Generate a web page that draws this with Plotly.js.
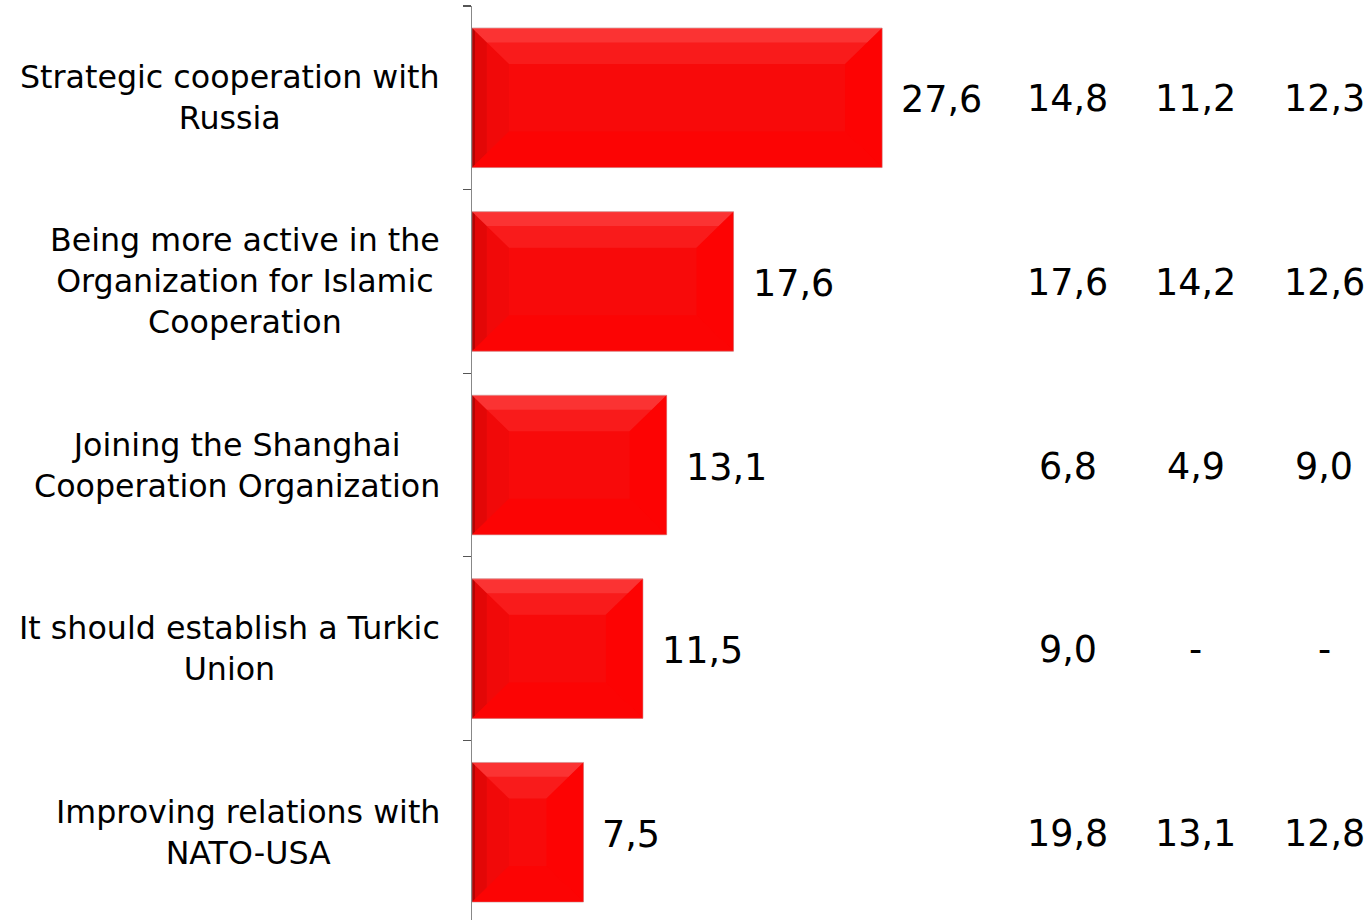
<!DOCTYPE html>
<html>
<head>
<meta charset="utf-8">
<script src="https://cdn.plot.ly/plotly-3.0.1.min.js"></script>
<style>html,body{margin:0;padding:0;background:#fff;}#chart{width:1368px;height:920px;}</style>
</head>
<body>
<div id="chart"></div>
<script>
const categories = [
  "Strategic cooperation with<br>Russia",
  "Being more active in the<br>Organization for Islamic<br>Cooperation",
  "Joining the Shanghai<br>Cooperation Organization",
  "It should establish a Turkic<br>Union",
  "Improving relations with<br>NATO-USA"
];
const values = [27.6, 17.6, 13.1, 11.5, 7.5];
const col2 = [14.8, 17.6, 6.8, 9.0, 19.8];
const col3 = [11.2, 14.2, 4.9, null, 13.1];
const col4 = [12.3, 12.6, 9.0, null, 12.8];

const fmt = v => v == null ? "-" : v.toFixed(1).replace(".", ",");
const FONT = "DejaVu Sans, Verdana, sans-serif";
const idx = categories.map((c, i) => i);

const W = 1368, H = 920, ML = 472, MT = 6;
const XMAX = 60.3;
const pxX = (W - ML) / XMAX;
const YTOP = -0.5, YBOT = 4.478;
const pxY = (H - MT) / (YBOT - YTOP);
const HALF = 0.38;
const bx = 37 / pxX, by = 36 / pxY;

const shapes = [];
const P = pts => "M" + pts.map(p => p[0] + "," + p[1]).join("L") + "Z";
values.forEach((v, i) => {
  const y0 = i - HALF, y1 = i + HALF;
  // top bevel, lighter toward the edge
  shapes.push({type: "path", xref: "x", yref: "y", line: {width: 0}, fillcolor: "rgba(255,90,90,0.22)",
    path: P([[0, y0], [v, y0], [v - bx, y0 + by], [bx, y0 + by]])});
  shapes.push({type: "path", xref: "x", yref: "y", line: {width: 0}, fillcolor: "rgba(255,110,110,0.3)",
    path: P([[0, y0], [v, y0], [v - bx * 0.4, y0 + by * 0.4], [bx * 0.4, y0 + by * 0.4]])});
  // left bevel, darker toward the edge
  shapes.push({type: "path", xref: "x", yref: "y", line: {width: 0}, fillcolor: "rgba(160,0,0,0.08)",
    path: P([[0, y0], [bx, y0 + by], [bx, y1 - by], [0, y1]])});
  shapes.push({type: "path", xref: "x", yref: "y", line: {width: 0}, fillcolor: "rgba(140,0,0,0.14)",
    path: P([[0, y0], [bx * 0.4, y0 + by * 0.4], [bx * 0.4, y1 - by * 0.4], [0, y1]])});
  shapes.push({type: "path", xref: "x", yref: "y", line: {width: 0}, fillcolor: "rgba(90,0,0,0.35)",
    path: P([[0, y0], [bx * 0.08, y0 + by * 0.08], [bx * 0.08, y1 - by * 0.08], [0, y1]])});
  // right bevel (brighter)
  shapes.push({type: "path", xref: "x", yref: "y", line: {width: 0}, fillcolor: "rgba(255,0,0,0.7)",
    path: P([[v, y0], [v, y1], [v - bx, y1 - by], [v - bx, y0 + by]])});
  // bottom bevel
  shapes.push({type: "path", xref: "x", yref: "y", line: {width: 0}, fillcolor: "rgba(255,0,0,0.6)",
    path: P([[bx, y1 - by], [v - bx, y1 - by], [v, y1], [0, y1]])});
});

const annotations = [];
categories.forEach((c, i) => {
  annotations.push({xref: "paper", yref: "y", x: 0, y: i, xanchor: "right", yanchor: "middle",
    xshift: -30, align: "center", showarrow: false, text: c,
    font: {family: FONT, size: 31.7, color: "#000"}});
  annotations.push({xref: "x", yref: "y", x: values[i], y: i, xanchor: "left", yanchor: "middle",
    xshift: 17, yshift: -2, showarrow: false, text: fmt(values[i]),
    font: {family: FONT, size: 36.5, color: "#000"}});
});
const colX = [0.665, 0.808, 0.951];
[col2, col3, col4].forEach((col, k) => {
  col.forEach((v, i) => {
    annotations.push({xref: "paper", yref: "y", x: colX[k], y: i, xanchor: "center", yanchor: "middle",
      yshift: -1, showarrow: false, text: fmt(v), font: {family: FONT, size: 36.5, color: "#000"}});
  });
});

const trace = {
  type: "bar", orientation: "h", x: values, y: idx,
  width: HALF * 2,
  marker: {color: "#F80A0A", line: {color: "rgba(210,170,170,0.9)", width: 1}},
  hovertext: categories, hoverinfo: "x+text"
};

const ticks = [];
for (let i = 0; i <= categories.length; i++) ticks.push(i - 0.5);

const layout = {
  width: W, height: H,
  margin: {l: ML, r: 0, t: MT, b: 0},
  paper_bgcolor: "#fff", plot_bgcolor: "#fff",
  showlegend: false,
  xaxis: {range: [0, XMAX], visible: false, showgrid: false, zeroline: false},
  yaxis: {range: [YBOT, YTOP], tickmode: "array", tickvals: ticks, ticktext: ticks.map(() => ""),
    ticks: "outside", ticklen: 8, tickcolor: "#555", tickwidth: 1.2,
    showline: true, linecolor: "#888", linewidth: 1.5, showgrid: false, zeroline: false},
  shapes: shapes,
  annotations: annotations
};

Plotly.newPlot("chart", [trace], layout, {staticPlot: true});
</script>
</body>
</html>
